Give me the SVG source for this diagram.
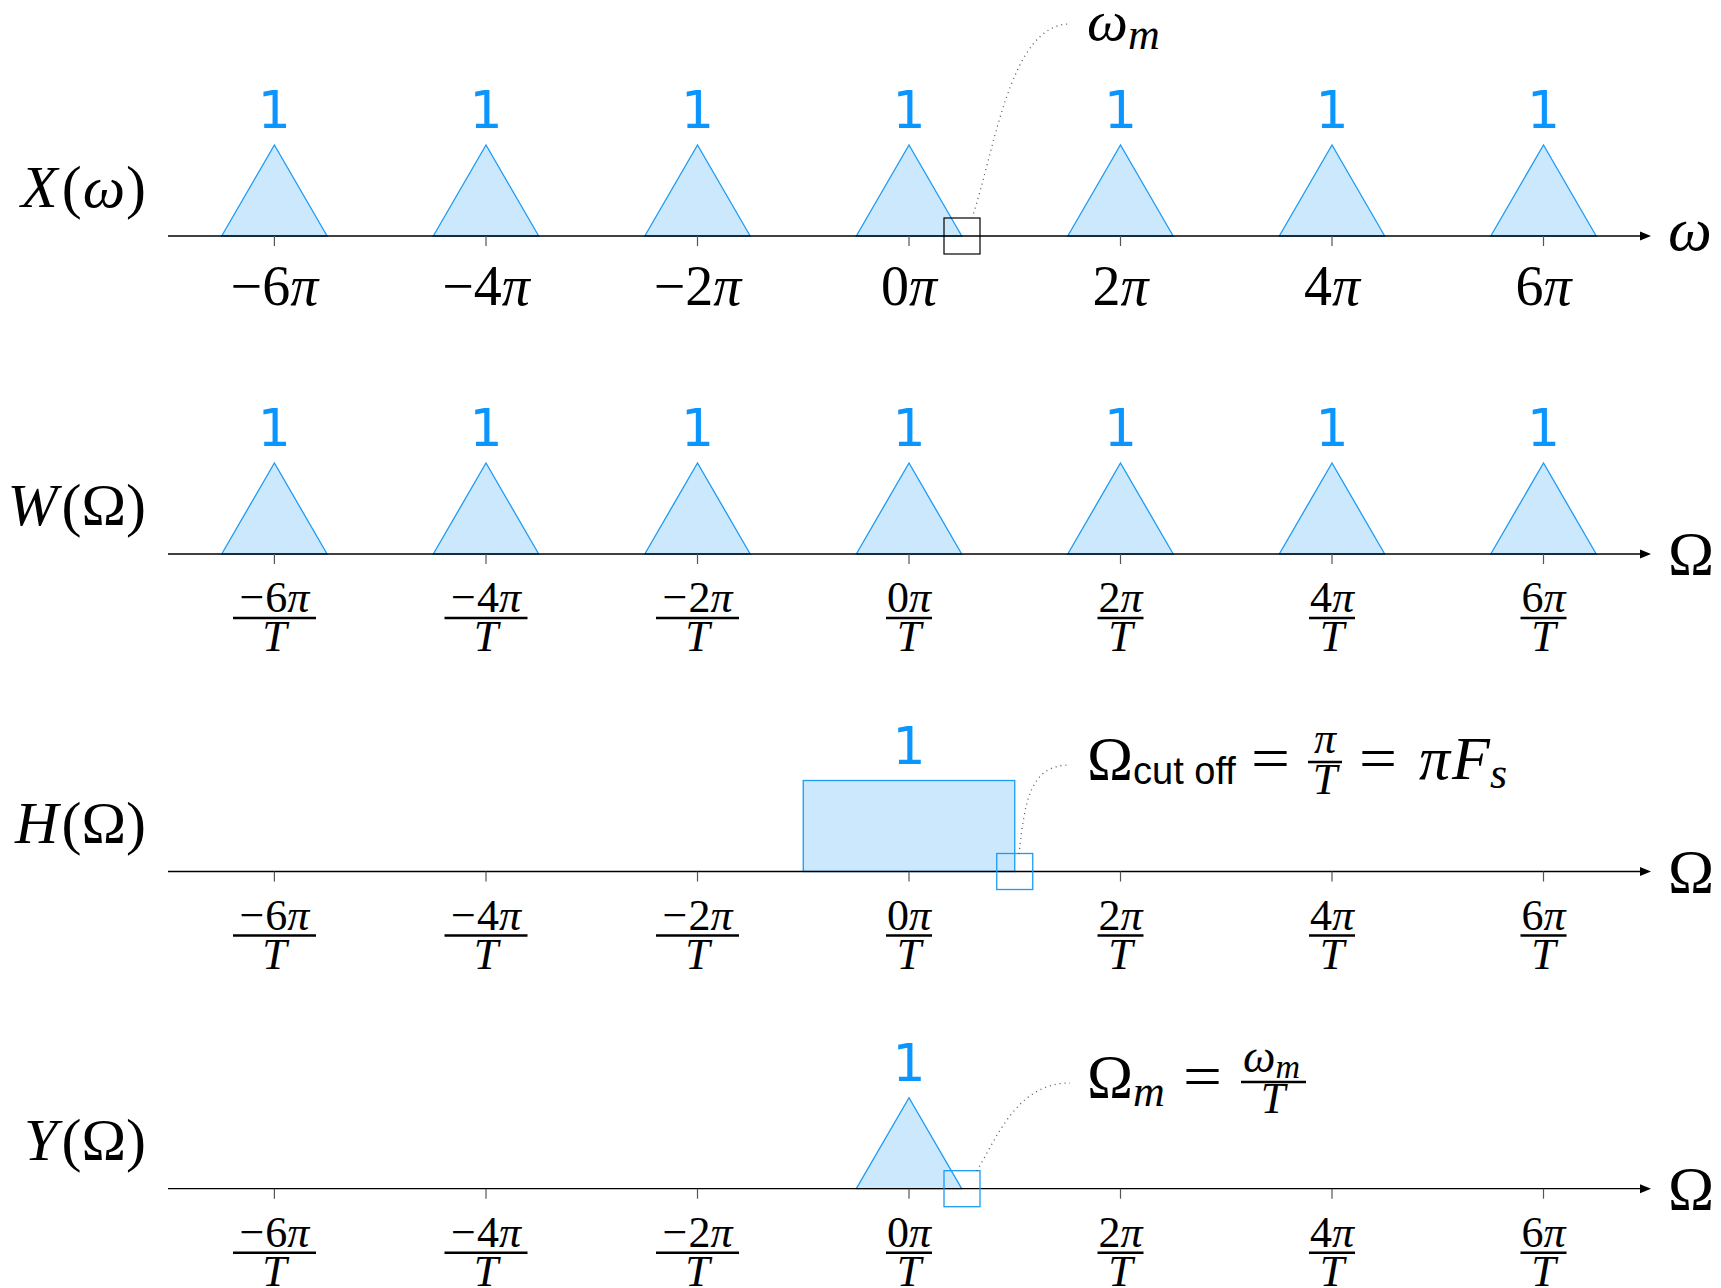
<svg xmlns="http://www.w3.org/2000/svg" width="1721" height="1288" viewBox="0 0 1721 1288">
<style>
.bg{fill:#fff}
.m{font-family:"Liberation Serif",serif;fill:#000}
.i{font-style:italic}
.big{font-size:62px}
.lbl{font-size:60px}
.tk{font-size:56px;text-anchor:middle}
.fr{font-size:44px;text-anchor:middle}
.one{font-family:"DejaVu Sans",sans-serif;font-size:52px;fill:#0A95FF;text-anchor:middle}
.sans{font-family:"Liberation Sans",sans-serif}
.tri{fill:#CCE8FC;stroke:#1C9BF5;stroke-width:1.3}
.axis{stroke:#000;stroke-width:1.3;fill:none}
.tick{stroke:#555;stroke-width:1.2}
.bar{stroke:#000;stroke-width:2.4}
.lead{fill:none;stroke:#555;stroke-width:1.3;stroke-dasharray:1 4}
.boxk{fill:none;stroke:#000;stroke-width:1.2}
.boxb{fill:none;stroke:#1C9BF5;stroke-width:1.3}
</style>
<defs>
<g id="ticks">
<line class="tick" x1="274.4" y1="0" x2="274.4" y2="10"/>
<line class="tick" x1="486" y1="0" x2="486" y2="10"/>
<line class="tick" x1="697.5" y1="0" x2="697.5" y2="10"/>
<line class="tick" x1="909" y1="0" x2="909" y2="10"/>
<line class="tick" x1="1120.5" y1="0" x2="1120.5" y2="10"/>
<line class="tick" x1="1332" y1="0" x2="1332" y2="10"/>
<line class="tick" x1="1543.5" y1="0" x2="1543.5" y2="10"/>
</g>
<g id="axisline">
<line class="axis" x1="168" y1="0" x2="1643" y2="0"/>
<polygon points="1651,0 1640,-4.5 1640,4.5" fill="#000"/>
</g>
<g id="tris">
<polygon class="tri" points="221.7,0 274.4,-91 327.1,0"/>
<polygon class="tri" points="433.3,0 486,-91 538.7,0"/>
<polygon class="tri" points="644.8,0 697.5,-91 750.2,0"/>
<polygon class="tri" points="856.3,0 909,-91 961.7,0"/>
<polygon class="tri" points="1067.8,0 1120.5,-91 1173.2,0"/>
<polygon class="tri" points="1279.3,0 1332,-91 1384.7,0"/>
<polygon class="tri" points="1490.8,0 1543.5,-91 1596.2,0"/>
</g>
<g id="ones">
<text class="one" x="274.4" y="-108">1</text>
<text class="one" x="486" y="-108">1</text>
<text class="one" x="697.5" y="-108">1</text>
<text class="one" x="909" y="-108">1</text>
<text class="one" x="1120.5" y="-108">1</text>
<text class="one" x="1332" y="-108">1</text>
<text class="one" x="1543.5" y="-108">1</text>
</g>
<g id="fracs">
<text class="m fr" x="274.4" y="58">−<tspan dx="1">6</tspan><tspan class="i">π</tspan></text>
<line class="bar" x1="233" y1="64" x2="316" y2="64"/>
<text class="m fr i" x="274.4" y="97">T</text>
<text class="m fr" x="486" y="58">−<tspan dx="1">4</tspan><tspan class="i">π</tspan></text>
<line class="bar" x1="444.5" y1="64" x2="527.5" y2="64"/>
<text class="m fr i" x="486" y="97">T</text>
<text class="m fr" x="697.5" y="58">−<tspan dx="1">2</tspan><tspan class="i">π</tspan></text>
<line class="bar" x1="656" y1="64" x2="739" y2="64"/>
<text class="m fr i" x="697.5" y="97">T</text>
<text class="m fr" x="909" y="58">0<tspan class="i">π</tspan></text>
<line class="bar" x1="886" y1="64" x2="932" y2="64"/>
<text class="m fr i" x="909" y="97">T</text>
<text class="m fr" x="1120.5" y="58">2<tspan class="i">π</tspan></text>
<line class="bar" x1="1097.5" y1="64" x2="1143.5" y2="64"/>
<text class="m fr i" x="1120.5" y="97">T</text>
<text class="m fr" x="1332" y="58">4<tspan class="i">π</tspan></text>
<line class="bar" x1="1309" y1="64" x2="1355" y2="64"/>
<text class="m fr i" x="1332" y="97">T</text>
<text class="m fr" x="1543.5" y="58">6<tspan class="i">π</tspan></text>
<line class="bar" x1="1520.5" y1="64" x2="1566.5" y2="64"/>
<text class="m fr i" x="1543.5" y="97">T</text>
</g>
</defs>
<rect class="bg" x="0" y="0" width="1721" height="1288"/>

<g id="row-X" transform="translate(0,236)">
<use href="#tris"/>
<use href="#axisline"/>
<use href="#ticks"/>
<use href="#ones"/>
<text class="m lbl" x="146" y="-29" text-anchor="end"><tspan class="i">X</tspan><tspan dx="4">(</tspan><tspan class="i" dx="1">ω</tspan><tspan dx="1">)</tspan></text>
<text class="m big i" x="1668" y="14">ω</text>
<text class="m tk" x="274.4" y="69">−6<tspan class="i">π</tspan></text>
<text class="m tk" x="486" y="69">−4<tspan class="i">π</tspan></text>
<text class="m tk" x="697.5" y="69">−2<tspan class="i">π</tspan></text>
<text class="m tk" x="909" y="69">0<tspan class="i">π</tspan></text>
<text class="m tk" x="1120.5" y="69">2<tspan class="i">π</tspan></text>
<text class="m tk" x="1332" y="69">4<tspan class="i">π</tspan></text>
<text class="m tk" x="1543.5" y="69">6<tspan class="i">π</tspan></text>
<rect class="boxk" x="944" y="-18" width="36" height="36"/>
</g>

<g id="row-W" transform="translate(0,554)">
<use href="#tris"/>
<use href="#axisline"/>
<use href="#ticks"/>
<use href="#ones"/>
<use href="#fracs"/>
<text class="m lbl" x="146" y="-29" text-anchor="end"><tspan class="i">W</tspan><tspan dx="4">(Ω)</tspan></text>
<text class="m big" x="1668" y="20">Ω</text>
</g>

<g id="row-H" transform="translate(0,871.5)">
<rect class="tri" x="803.25" y="-91" width="211.5" height="91"/>
<use href="#axisline"/>
<use href="#ticks"/>
<use href="#fracs"/>
<text class="one" x="909" y="-108">1</text>
<text class="m lbl" x="146" y="-29" text-anchor="end"><tspan class="i">H</tspan><tspan dx="3">(Ω)</tspan></text>
<text class="m big" x="1668" y="20">Ω</text>
<rect class="boxb" x="996.75" y="-18" width="36" height="36"/>
</g>

<g id="row-Y" transform="translate(0,1188.7)">
<polygon class="tri" points="856.3,0 909,-91 961.7,0"/>
<use href="#axisline"/>
<use href="#ticks"/>
<use href="#fracs"/>
<text class="one" x="909" y="-108">1</text>
<text class="m lbl" x="146" y="-29" text-anchor="end"><tspan class="i">Y</tspan><tspan dx="4">(Ω)</tspan></text>
<text class="m big" x="1668" y="20">Ω</text>
<rect class="boxb" x="944" y="-18" width="36" height="36"/>
</g>

<g id="label-wm">
<text class="m i" font-size="58" x="1087" y="40">ω<tspan font-size="44" dy="9">m</tspan></text>
</g>

<g id="label-cutoff">
<text class="m big" x="1087" y="779">Ω<tspan class="sans" font-size="38" dy="5">cut off</tspan></text>
<text class="m big" x="1251" y="779" textLength="39" lengthAdjust="spacingAndGlyphs">=</text>
<text class="m fr i" x="1325" y="753">π</text>
<line class="bar" x1="1308" y1="762" x2="1342" y2="762"/>
<text class="m fr i" x="1325" y="794">T</text>
<text class="m big" x="1359" y="779" textLength="38" lengthAdjust="spacingAndGlyphs">=</text>
<text class="m big i" x="1419" y="779">π<tspan dx="2">F</tspan><tspan font-size="44" dy="9">s</tspan></text>
</g>

<g id="label-Om">
<text class="m big" x="1087" y="1097">Ω<tspan class="i" font-size="44" dy="9">m</tspan></text>
<text class="m big" x="1183" y="1097" textLength="39" lengthAdjust="spacingAndGlyphs">=</text>
<text class="m i" font-size="46" x="1243" y="1072">ω<tspan font-size="34" dy="6">m</tspan></text>
<line class="bar" x1="1241" y1="1082" x2="1306" y2="1082"/>
<text class="m fr i" x="1273" y="1113">T</text>
</g>

<g id="connectors">
<path class="lead" d="M 972 218 C 995 150, 1010 24, 1070 24"/>
<path class="lead" d="M 1019 854 C 1025 800, 1030 765, 1070 765"/>
<path class="lead" d="M 977 1171 C 1000 1130, 1020 1083, 1070 1083"/>
</g>
</svg>
